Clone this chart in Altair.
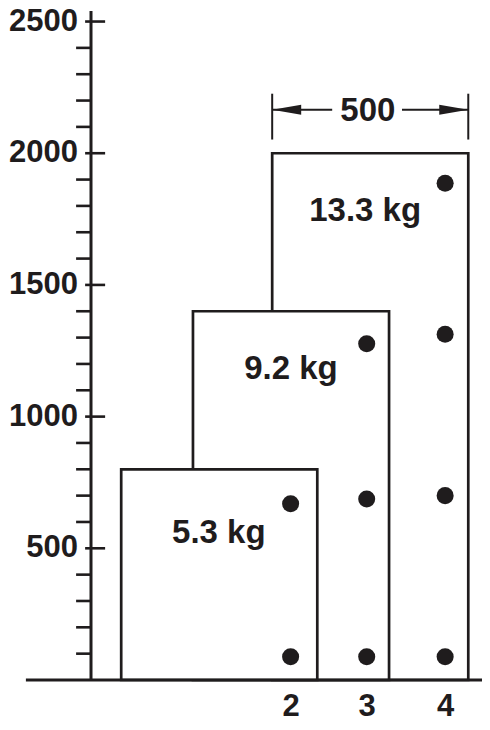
import altair as alt
import pandas as pd

INK = "#1f1c1d"
FONT = "Liberation Sans"

# --- data -------------------------------------------------------------
# panels (x in mm across the door width, y = door height in mm), back to front
panel_x0 = [462, 260, 77]
panel_x1 = [962, 760, 577]
panel_top = [2000, 1400, 800]
panel_weight = ["13.3 kg", "9.2 kg", "5.3 kg"]
weight_x = [699, 510, 326]
weight_y = [1744, 1142, 519]

# hinge columns: number of hinges, column position, hinge heights
hinge_count = [2, 3, 4]
hinge_col_x = [509, 703, 903]
hinges_2 = [88, 669]
hinges_3 = [88, 687, 1277]
hinges_4 = [88, 700, 1313, 1886]

# y axis ticks
minor_ticks = [100, 200, 300, 400, 600, 700, 800, 900, 1100, 1200, 1300, 1400,
               1600, 1700, 1800, 1900, 2100, 2200, 2300, 2400]
major_ticks = [500, 1000, 1500, 2000, 2500]
major_labels = ["500", "1000", "1500", "2000", "2500"]

# width dimension
dim_label = "500"
dim_x = [462, 962]
dim_y0, dim_y1, dim_line_y, dim_text_y = 2052, 2226, 2165, 2124
dim_text_x = 706
dim_left_seg = [462, 615]
dim_right_seg = [793, 962]
arrow_x = [499, 925]
arrow_dir = ["left", "right"]

X_DOMAIN = [0, 997]
Y_DOMAIN = [0, 2540]
baseline_x = [-166, 997]
axis_line_y = [0, 2540]
major_tick_x = [-15, 36]
minor_tick_x = [-38, 0]
tick_label_x = -33

# --- tables -------------------------------------------------------------
panels = pd.DataFrame({"x": panel_x0, "x2": panel_x1, "y": [0, 0, 0], "y2": panel_top})
weights = pd.DataFrame({"x": weight_x, "y": weight_y, "t": panel_weight})
dots = pd.DataFrame({
    "x": [hinge_col_x[0]] * len(hinges_2) + [hinge_col_x[1]] * len(hinges_3) + [hinge_col_x[2]] * len(hinges_4),
    "y": hinges_2 + hinges_3 + hinges_4,
})
base = pd.DataFrame({"x": [baseline_x[0]], "x2": [baseline_x[1]], "y": [0]})
yline = pd.DataFrame({"x": [0], "y": [axis_line_y[0]], "y2": [axis_line_y[1]]})
majors = pd.DataFrame({"y": major_ticks, "x": [major_tick_x[0]] * len(major_ticks),
                       "x2": [major_tick_x[1]] * len(major_ticks)})
minors = pd.DataFrame({"y": minor_ticks, "x": [minor_tick_x[0]] * len(minor_ticks),
                       "x2": [minor_tick_x[1]] * len(minor_ticks)})
ylabels = pd.DataFrame({"y": major_ticks, "x": [tick_label_x] * len(major_ticks), "t": major_labels})
dim_v = pd.DataFrame({"x": dim_x, "y": [dim_y0] * 2, "y2": [dim_y1] * 2})
dim_h = pd.DataFrame({"x": [dim_left_seg[0], dim_right_seg[0]],
                      "x2": [dim_left_seg[1], dim_right_seg[1]],
                      "y": [dim_line_y] * 2})
arrows = pd.DataFrame({"x": arrow_x, "y": [dim_line_y] * 2, "d": arrow_dir})
dim_t = pd.DataFrame({"x": [dim_text_x], "y": [dim_text_y], "t": [dim_label]})

xs = alt.Scale(domain=X_DOMAIN, nice=False, zero=False)
ys = alt.Scale(domain=Y_DOMAIN, nice=False, zero=False)

label_map = "{" + ",".join(f"'{x}':'{n}'" for x, n in zip(hinge_col_x, hinge_count)) + "}"

x_axis = alt.Axis(values=hinge_col_x, labelExpr=label_map + "[datum.value]",
                  ticks=False, tickSize=0, domain=False, grid=False, title=None,
                  labelPadding=11, labelFont=FONT, labelFontSize=31,
                  labelFontWeight="bold", labelColor=INK, labelFlush=False,
                  labelOverlap=False, labelBound=False)


def X(f="x"):
    return alt.X(f"{f}:Q", scale=xs, title=None)


def Y(f="y"):
    return alt.Y(f"{f}:Q", scale=ys, title=None, axis=None)


rects = alt.Chart(panels).mark_rect(fill="white", stroke=INK, strokeWidth=2.7).encode(
    x=alt.X("x:Q", scale=xs, axis=x_axis),
    x2="x2:Q",
    y=Y(),
    y2="y2:Q",
)

baseline = alt.Chart(base).mark_rule(color=INK, strokeWidth=3).encode(x=X(), x2="x2:Q", y=Y())
axis_line = alt.Chart(yline).mark_rule(color=INK, strokeWidth=3).encode(x=X(), y=Y(), y2="y2:Q")
major = alt.Chart(majors).mark_rule(color=INK, strokeWidth=2.6).encode(x=X(), x2="x2:Q", y=Y())
minor = alt.Chart(minors).mark_rule(color=INK, strokeWidth=2.6).encode(x=X(), x2="x2:Q", y=Y())
tick_labels = alt.Chart(ylabels).mark_text(font=FONT, fontSize=31, fontWeight="bold", color=INK,
                                           align="right", baseline="middle").encode(
    x=X(), y=Y(), text="t:N")
dimv = alt.Chart(dim_v).mark_rule(color=INK, strokeWidth=2).encode(x=X(), y=Y(), y2="y2:Q")
dimh = alt.Chart(dim_h).mark_rule(color=INK, strokeWidth=2).encode(x=X(), x2="x2:Q", y=Y())
arrow_heads = alt.Chart(arrows).mark_point(filled=True, opacity=1, size=841, color=INK, strokeWidth=0).encode(
    x=X(), y=Y(),
    shape=alt.Shape("d:N", scale=alt.Scale(domain=["left", "right"],
                                           range=["M -1 0 L 1 -0.35 L 1 0.35 Z",
                                                  "M 1 0 L -1 -0.35 L -1 0.35 Z"]),
                    legend=None),
)
dim_text = alt.Chart(dim_t).mark_text(font=FONT, fontSize=33, fontWeight="bold", color=INK,
                                      align="center", baseline="alphabetic").encode(
    x=X(), y=Y(), text="t:N")
hinge_dots = alt.Chart(dots).mark_circle(size=290, color=INK, opacity=1).encode(x=X(), y=Y())
weight_text = alt.Chart(weights).mark_text(font=FONT, fontSize=33, fontWeight="bold", color=INK,
                                           align="center", baseline="alphabetic").encode(
    x=X(), y=Y(), text="t:N")

chart = alt.layer(rects, baseline, axis_line, minor, major, tick_labels, dimv, dimh, arrow_heads,
                  dim_text, hinge_dots, weight_text).properties(
    width=391, height=669,
    autosize=alt.AutoSizeParams(type="none"),
    padding={"left": 83, "top": 3, "right": 0, "bottom": 42},
    background="white",
).configure_view(stroke=None)

chart.save("out.html", embed_options={"renderer": "svg", "actions": False})
